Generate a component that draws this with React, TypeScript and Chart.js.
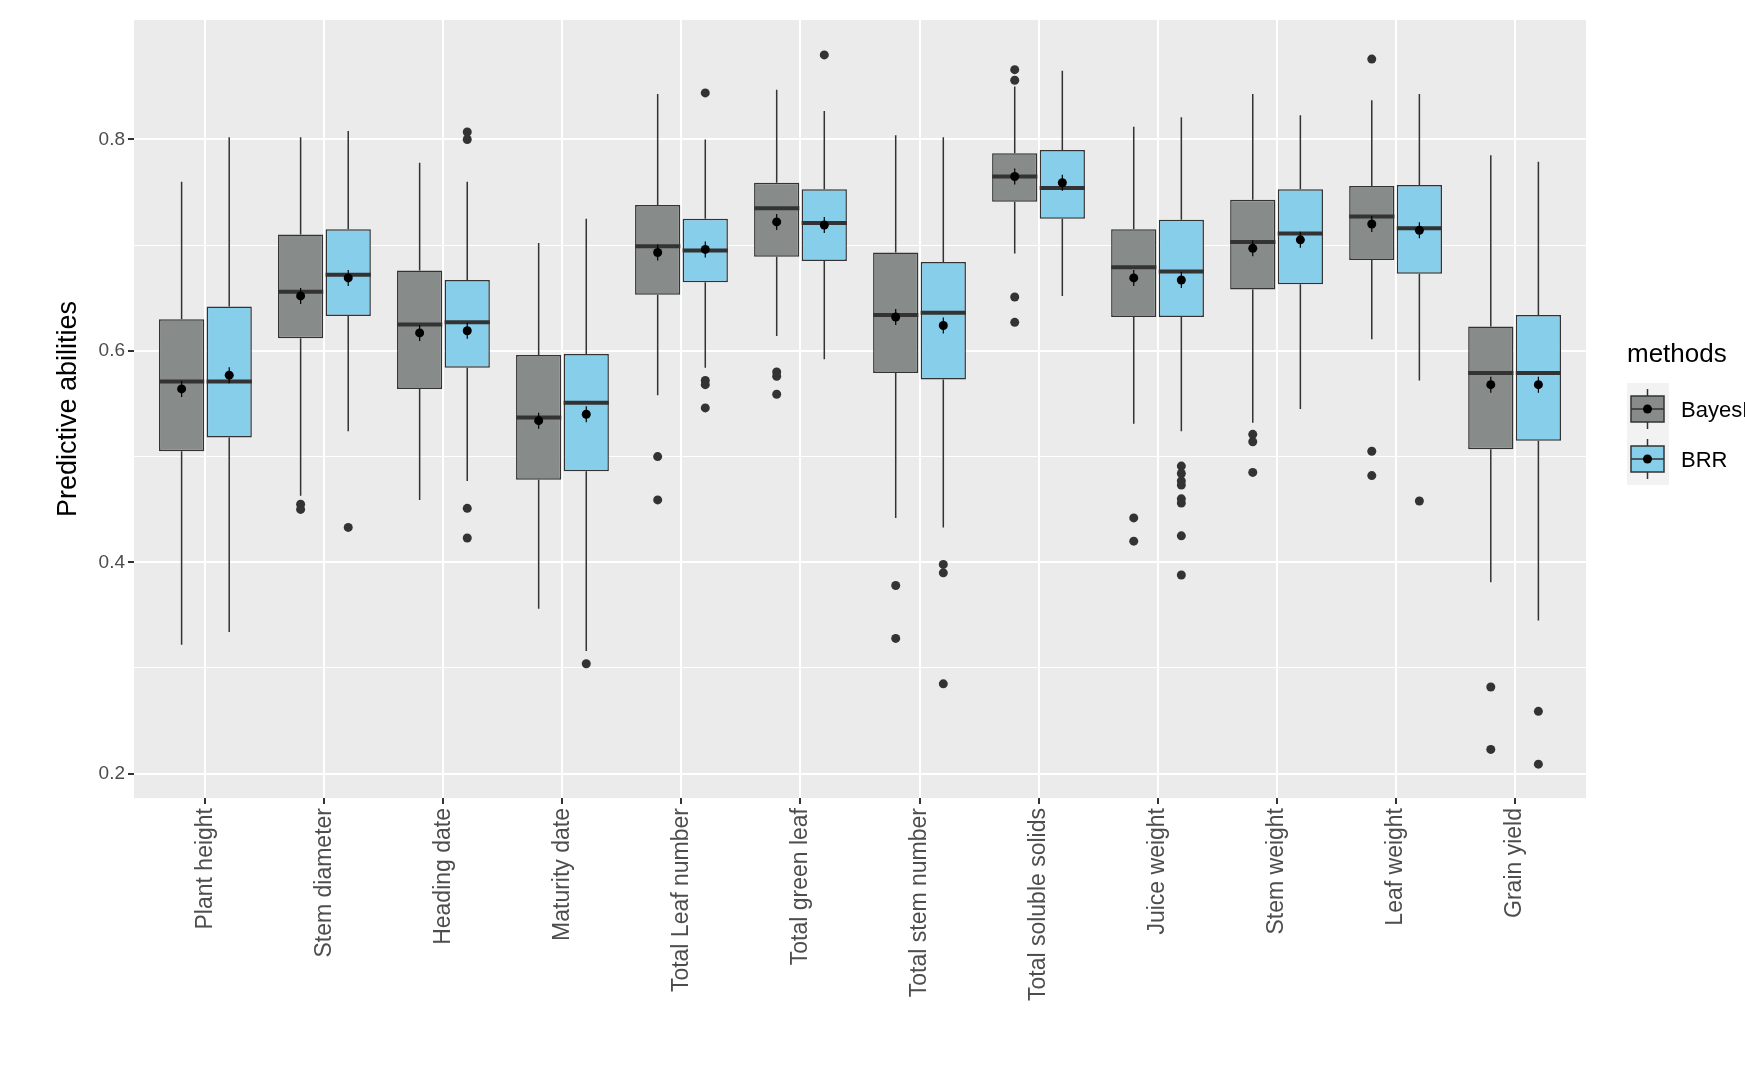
import React, { useEffect, useRef } from "react";
import { Chart, registerables } from "chart.js";
Chart.register(...registerables);

const categories = ["Plant height","Stem diameter","Heading date","Maturity date","Total Leaf number","Total green leaf","Total stem number","Total soluble solids","Juice weight","Stem weight","Leaf weight","Grain yield"];
const methods = ["BayesB", "BRR"];
const colors = ["#878C8B", "#87CEEB"];
// [min, q1, median, q3, max, mean]
const bayesB = [
  [0.322,0.505,0.571,0.630,0.760,0.564],
  [0.463,0.612,0.656,0.710,0.802,0.652],
  [0.459,0.564,0.625,0.676,0.778,0.617],
  [0.356,0.478,0.537,0.596,0.702,0.534],
  [0.558,0.653,0.699,0.738,0.843,0.693],
  [0.614,0.689,0.735,0.759,0.847,0.722],
  [0.442,0.579,0.634,0.693,0.804,0.632],
  [0.692,0.741,0.765,0.787,0.850,0.765],
  [0.531,0.632,0.679,0.715,0.812,0.669],
  [0.532,0.658,0.703,0.743,0.843,0.697],
  [0.611,0.686,0.727,0.756,0.837,0.720],
  [0.381,0.507,0.579,0.623,0.785,0.568],
];
const brr = [
  [0.334,0.518,0.571,0.642,0.802,0.577],
  [0.524,0.633,0.672,0.715,0.808,0.669],
  [0.477,0.584,0.627,0.667,0.760,0.619],
  [0.316,0.486,0.551,0.597,0.725,0.540],
  [0.584,0.665,0.695,0.725,0.800,0.696],
  [0.592,0.685,0.721,0.753,0.827,0.719],
  [0.433,0.573,0.636,0.684,0.802,0.624],
  [0.652,0.725,0.754,0.790,0.865,0.759],
  [0.524,0.632,0.675,0.724,0.821,0.667],
  [0.545,0.663,0.711,0.753,0.823,0.705],
  [0.572,0.673,0.716,0.757,0.843,0.714],
  [0.345,0.515,0.579,0.634,0.779,0.568],
];
const bayesBOutliers = [[],[0.455,0.450],[],[],[0.500,0.459],[0.580,0.576,0.559],[0.378,0.328],[0.866,0.856,0.651,0.627],[0.442,0.420],[0.521,0.514,0.485],[0.876,0.505,0.482],[0.282,0.223]];
const brrOutliers = [[],[0.433],[0.807,0.800,0.451,0.423],[0.304],[0.844,0.572,0.568,0.546],[0.880],[0.398,0.390,0.285],[],[0.491,0.484,0.477,0.473,0.460,0.456,0.425,0.388],[],[0.458],[0.259,0.209]];

const stats = [bayesB, brr];
const outliers = [bayesBOutliers, brrOutliers];
const FONT = "'Liberation Sans', Arial, sans-serif";

export default function App() {
  const ref = useRef<HTMLCanvasElement>(null);
  useEffect(() => {
    const boxPlugin = {
      id: "boxes",
      beforeDatasetsDraw(chart: any) {
        const ctx = chart.ctx; const y = chart.scales.y;
        ctx.save(); ctx.strokeStyle = "#333333"; ctx.lineWidth = 1.5;
        stats.forEach((s, i) => {
          const meta = chart.getDatasetMeta(i);
          s.forEach((r, j) => {
            const x = meta.data[j].x;
            ctx.beginPath();
            ctx.moveTo(x, y.getPixelForValue(r[0])); ctx.lineTo(x, y.getPixelForValue(r[1]));
            ctx.moveTo(x, y.getPixelForValue(r[3])); ctx.lineTo(x, y.getPixelForValue(r[4]));
            ctx.stroke();
          });
        });
        ctx.restore();
      },
      afterDatasetsDraw(chart: any) {
        const ctx = chart.ctx; const y = chart.scales.y;
        ctx.save();
        stats.forEach((s, i) => {
          const meta = chart.getDatasetMeta(i);
          s.forEach((r, j) => {
            const el = meta.data[j]; const x = el.x; const w = el.width;
            ctx.strokeStyle = "#333333"; ctx.lineWidth = 4;
            ctx.beginPath();
            const ym = y.getPixelForValue(r[2]);
            ctx.moveTo(x - w / 2, ym); ctx.lineTo(x + w / 2, ym); ctx.stroke();
            const yMean = y.getPixelForValue(r[5]);
            ctx.lineWidth = 1.2; ctx.strokeStyle = "#000";
            ctx.beginPath(); ctx.moveTo(x, yMean - 8); ctx.lineTo(x, yMean + 8); ctx.stroke();
            ctx.fillStyle = "#000";
            ctx.beginPath(); ctx.arc(x, yMean, 4.5, 0, Math.PI * 2); ctx.fill();
            ctx.fillStyle = "#333333";
            outliers[i][j].forEach((v) => {
              ctx.beginPath(); ctx.arc(x, y.getPixelForValue(v), 4.5, 0, Math.PI * 2); ctx.fill();
            });
          });
        });
        ctx.fillStyle = "#000"; ctx.font = "26px " + FONT;
        ctx.textBaseline = "middle"; ctx.textAlign = "left";
        ctx.fillText("methods", 1627, 355);
        ctx.fillStyle = "#F2F2F2"; ctx.fillRect(1627, 383, 42, 102);
        methods.forEach((m, k) => {
          const cy = 409 + k * 50;
          ctx.fillStyle = colors[k]; ctx.fillRect(1631, cy - 13, 33, 26);
          ctx.strokeStyle = "#333333"; ctx.lineWidth = 1.5; ctx.strokeRect(1631, cy - 13, 33, 26);
          ctx.beginPath(); ctx.moveTo(1631, cy); ctx.lineTo(1664, cy);
          ctx.moveTo(1647.5, cy - 20); ctx.lineTo(1647.5, cy - 13);
          ctx.moveTo(1647.5, cy + 13); ctx.lineTo(1647.5, cy + 20); ctx.stroke();
          ctx.fillStyle = "#000"; ctx.beginPath(); ctx.arc(1647.5, cy, 4.5, 0, Math.PI * 2); ctx.fill();
          ctx.font = "22px " + FONT;
          ctx.fillText(m, 1681, cy + 2);
        });
        ctx.restore();
      },
    };
    const bg = {
      id: "bg",
      beforeDraw(chart: any) {
        const a = chart.chartArea; const ctx = chart.ctx;
        ctx.save(); ctx.fillStyle = "#EBEBEB"; ctx.fillRect(a.left, a.top, a.right - a.left, a.bottom - a.top); ctx.restore();
      },
    };
    const chart = new Chart(ref.current!, {
      type: "bar",
      data: {
        datasets: stats.map((s, i) => ({
          label: methods[i],
          data: s.map((r, j) => ({ x: j, y: [r[1], r[3]] })),
          backgroundColor: colors[i],
          borderColor: "#333333",
          borderWidth: 1.5,
          borderSkipped: false,
          categoryPercentage: 0.8,
          barPercentage: 0.95,
        })) as any,
      },
      options: {
        animation: false,
        responsive: false,
        layout: { padding: { top: 20, right: 159, left: 52, bottom: 0 } },
        plugins: { legend: { display: false }, tooltip: { enabled: false } },
        scales: {
          x: {
            type: "linear",
            min: -0.6, max: 11.6,
            offset: false,
            afterBuildTicks: (s: any) => { s.ticks = categories.map((_, i) => ({ value: i })); },
            grid: { color: "#FFFFFF", lineWidth: 2, offset: false, tickColor: "#333333", tickLength: 6 } as any,
            border: { display: false },
            ticks: {
              minRotation: 90, maxRotation: 90, autoSkip: false, color: "#4D4D4D",
              font: { size: 23, family: FONT }, padding: 4,
              callback: (v: any) => categories[Math.round(v)] ?? "",
            },
            afterFit: (s: any) => { s.height = 269; },
          } as any,
          y: {
            min: 0.177, max: 0.913,
            afterBuildTicks: (s: any) => { s.ticks = [0.2,0.3,0.4,0.5,0.6,0.7,0.8].map((v) => ({ value: v })); },
            grid: { color: "#FFFFFF", lineWidth: (c: any) => (Math.round(c.tick?.value * 10) % 2 === 0 ? 2 : 1), tickColor: (c: any) => (Math.round(c.tick?.value * 10) % 2 === 0 ? "#333333" : "rgba(0,0,0,0)"), tickLength: 6 } as any,
            border: { display: false },
            ticks: {
              color: "#4D4D4D", font: { size: 19, family: FONT },
              callback: (v: any) => (Math.round(v * 10) % 2 === 0 ? Number(v).toFixed(1) : ""),
            },
            title: { display: true, text: "Predictive abilities", color: "#000", font: { size: 27, family: FONT }, padding: { bottom: 6, top: 0 } },
            afterFit: (s: any) => { s.width = 82; },
          },
        },
      },
      plugins: [bg, boxPlugin],
    });
    return () => chart.destroy();
  }, []);
  return (
    <div style={{ position: "absolute", left: 0, top: 0, width: 1745, height: 1067, background: "#fff" }}>
      <canvas ref={ref} width={1745} height={1067} style={{ width: 1745, height: 1067 }} />
    </div>
  );
}
